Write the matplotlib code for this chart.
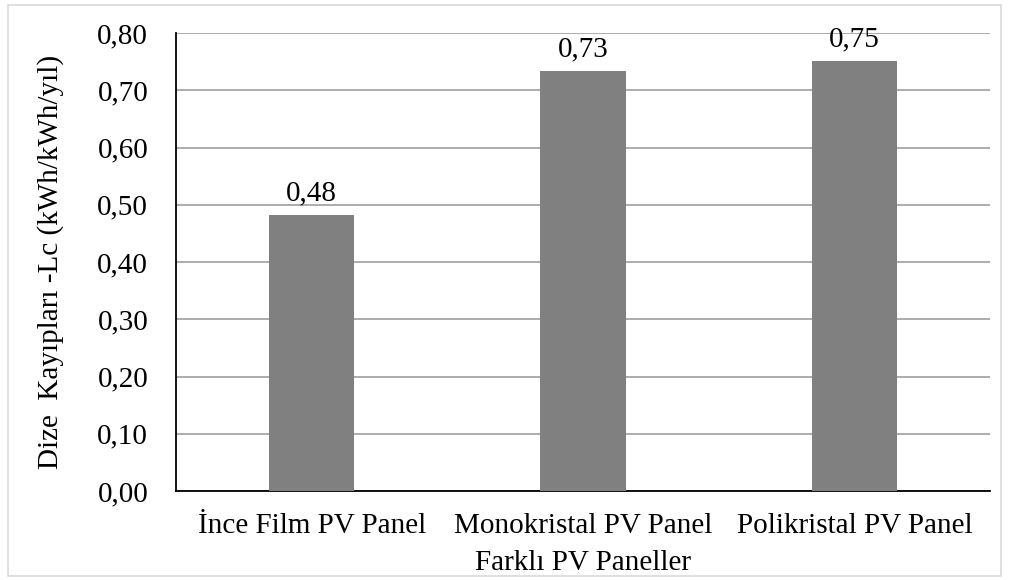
import numpy as np
import matplotlib.pyplot as plt
from matplotlib.patches import Rectangle

categories = ["İnce Film PV Panel", "Monokristal PV Panel", "Polikristal PV Panel"]
values = [0.482, 0.733, 0.751]
value_labels = ["0,48", "0,73", "0,75"]
y_ticks = [0.0, 0.1, 0.2, 0.3, 0.4, 0.5, 0.6, 0.7, 0.8]
y_tick_labels = ["0,00", "0,10", "0,20", "0,30", "0,40", "0,50", "0,60", "0,70", "0,80"]

plt.rcParams["font.family"] = ["Liberation Serif", "DejaVu Serif"]
fs = 21

fig = plt.figure(figsize=(10.09, 5.8), dpi=100)
ax = fig.add_axes([176 / 1009, 1 - 491 / 580, (990 - 176) / 1009, (491 - 33) / 580])

x = np.arange(len(categories))
ax.bar(x, values, width=0.315, color="#808080", zorder=3)

for xi, v, lab in zip(x, values, value_labels):
    ax.text(xi, v + 0.016, lab, ha="center", va="bottom", fontsize=fs, zorder=4)

ax.set_xlim(-0.5, len(categories) - 0.5)
ax.set_ylim(0, 0.8)
ax.set_yticks(y_ticks)
ax.set_yticklabels(y_tick_labels, fontsize=fs)
ax.set_xticks(x)
ax.set_xticklabels(categories, fontsize=fs)
ax.tick_params(axis="y", length=0, pad=20)
ax.tick_params(axis="x", length=0, pad=16)

ax.yaxis.grid(True, color="#A6A6A6", linewidth=1.3, zorder=0)
for side in ["top", "right"]:
    ax.spines[side].set_visible(False)
ax.spines["left"].set_color("#000000")
ax.spines["bottom"].set_color("#000000")
ax.spines["left"].set_linewidth(1.3)
ax.spines["bottom"].set_linewidth(1.3)

ax.set_ylabel("Dize  Kayıpları -Lc (kWh/kWh/yıl)", fontsize=fs, labelpad=24)
ax.set_xlabel("Farklı PV Paneller", fontsize=fs, labelpad=8)

fig.patches.append(Rectangle((8 / 1009, 4 / 580), 993 / 1009, 571 / 580,
                             transform=fig.transFigure, fill=False,
                             edgecolor="#D9D9D9", linewidth=1.2))

fig.savefig("out.png", dpi=100)
